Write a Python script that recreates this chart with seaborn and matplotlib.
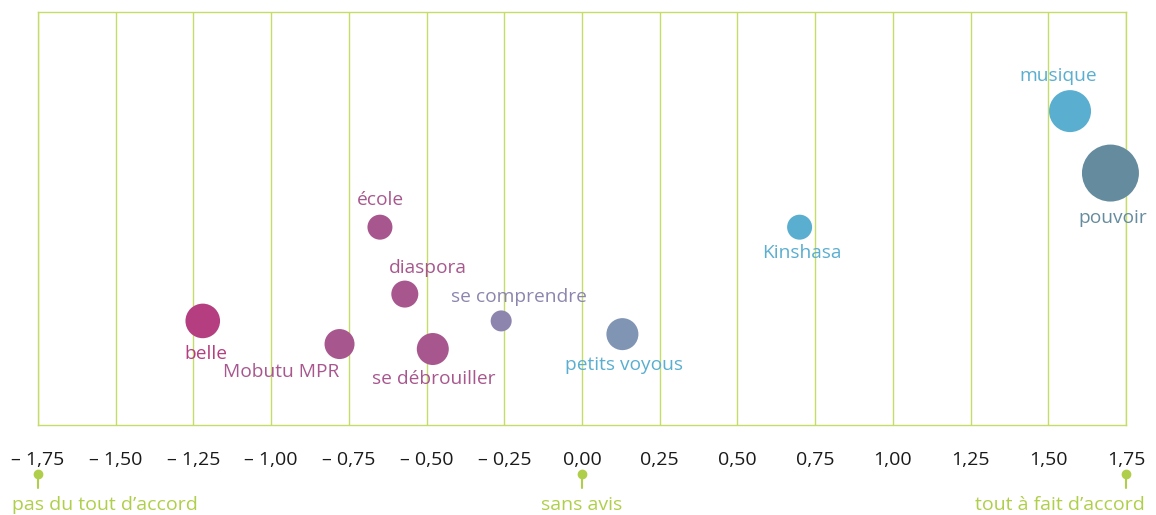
import matplotlib
matplotlib.use('Agg')
import matplotlib.pyplot as plt
import seaborn as sns
import pandas as pd

# data
mots = ['belle', 'Mobutu MPR', 'école', 'diaspora', 'se débrouiller',
        'se comprendre', 'petits voyous', 'Kinshasa', 'musique', 'pouvoir']
accord = [-1.22, -0.78, -0.65, -0.57, -0.48, -0.26, 0.13, 0.70, 1.57, 1.70]
hauteur = [25.2, 19.6, 47.9, 31.7, 18.4, 25.2, 22.0, 47.9, 76.0, 61.0]
poids = [620, 467, 324, 378, 531, 229, 531, 324, 914, 1684]
couleurs_bulle = ['#B43E80', '#A8578E', '#A8578E', '#A8578E', '#A8578E',
                  '#8D85AE', '#8094B4', '#5AAED0', '#5AAED0', '#658C9E']
couleurs_texte = ['#B43E80', '#A8578E', '#A8578E', '#A8578E', '#A8578E',
                  '#8D85AE', '#5AAED0', '#5AAED0', '#5AAED0', '#658C9E']
# label offsets in pixels from bubble centre
decalages = [(3, -33), (-58, -28), (0, 27), (23, 26), (1, -30),
             (18, 24), (2, -31), (2, -26), (-12, 35), (2, -45)]

ticks = [-1.75, -1.5, -1.25, -1.0, -0.75, -0.5, -0.25, 0, 0.25, 0.5, 0.75, 1.0, 1.25, 1.5, 1.75]
tick_labels = ['– 1,75', '– 1,50', '– 1,25', '– 1,00', '– 0,75', '– 0,50', '– 0,25',
               '0,00', '0,25', '0,50', '0,75', '1,00', '1,25', '1,50', '1,75']
reperes = [-1.75, 0, 1.75]
reperes_txt = ['pas du tout d’accord', 'sans avis', 'tout à fait d’accord']

vert = '#C5DC6A'
vert_txt = '#AFCF4A'

df = pd.DataFrame({'mot': mots, 'accord': accord, 'hauteur': hauteur, 'poids': poids})

sns.set_style('white')
plt.rcParams['font.family'] = ['Open Sans', 'DejaVu Sans']

fig = plt.figure(figsize=(11.56, 5.15), dpi=100)
ax = fig.add_axes([38 / 1156, 90 / 515, 1088 / 1156, 413 / 515])

sns.scatterplot(data=df, x='accord', y='hauteur', hue='mot', palette=couleurs_bulle,
                size='poids', sizes=(0, 1700), size_norm=(0, 1700),
                linewidth=0, alpha=1, legend=False, ax=ax, zorder=3, clip_on=False)

for m, x, y, c, (dx, dy) in zip(mots, accord, hauteur, couleurs_texte, decalages):
    ax.annotate(m, (x, y), xytext=(dx, dy), textcoords='offset pixels',
                ha='center', va='center', fontsize=13.8, color=c)

ax.set_xlim(-1.75, 1.75)
ax.set_ylim(0, 100)
ax.set_xticks(ticks)
ax.set_xticklabels(tick_labels, fontsize=14, color='#1a1a1a')
ax.set_yticks([])
ax.tick_params(axis='x', length=0, pad=19)
ax.grid(axis='x', color=vert, lw=1)
for s in ax.spines.values():
    s.set_color(vert)
    s.set_linewidth(1)
ax.set_xlabel('')
ax.set_ylabel('')

tr = ax.get_xaxis_transform()
alignements = [('left', -26), ('center', 0), ('right', 19)]
for x, t, (ha, dx) in zip(reperes, reperes_txt, alignements):
    ax.plot([x, x], [-0.1186, -0.1525], color=vert_txt, lw=1.5, transform=tr, clip_on=False)
    ax.plot([x], [-0.1186], 'o', color=vert_txt, ms=6, transform=tr, clip_on=False)
    ax.annotate(t, (x, -0.194), xycoords=tr, xytext=(dx, 0), textcoords='offset pixels',
                ha=ha, va='center', fontsize=14, color=vert_txt)

plt.savefig('out.png', dpi=100)
plt.close()
